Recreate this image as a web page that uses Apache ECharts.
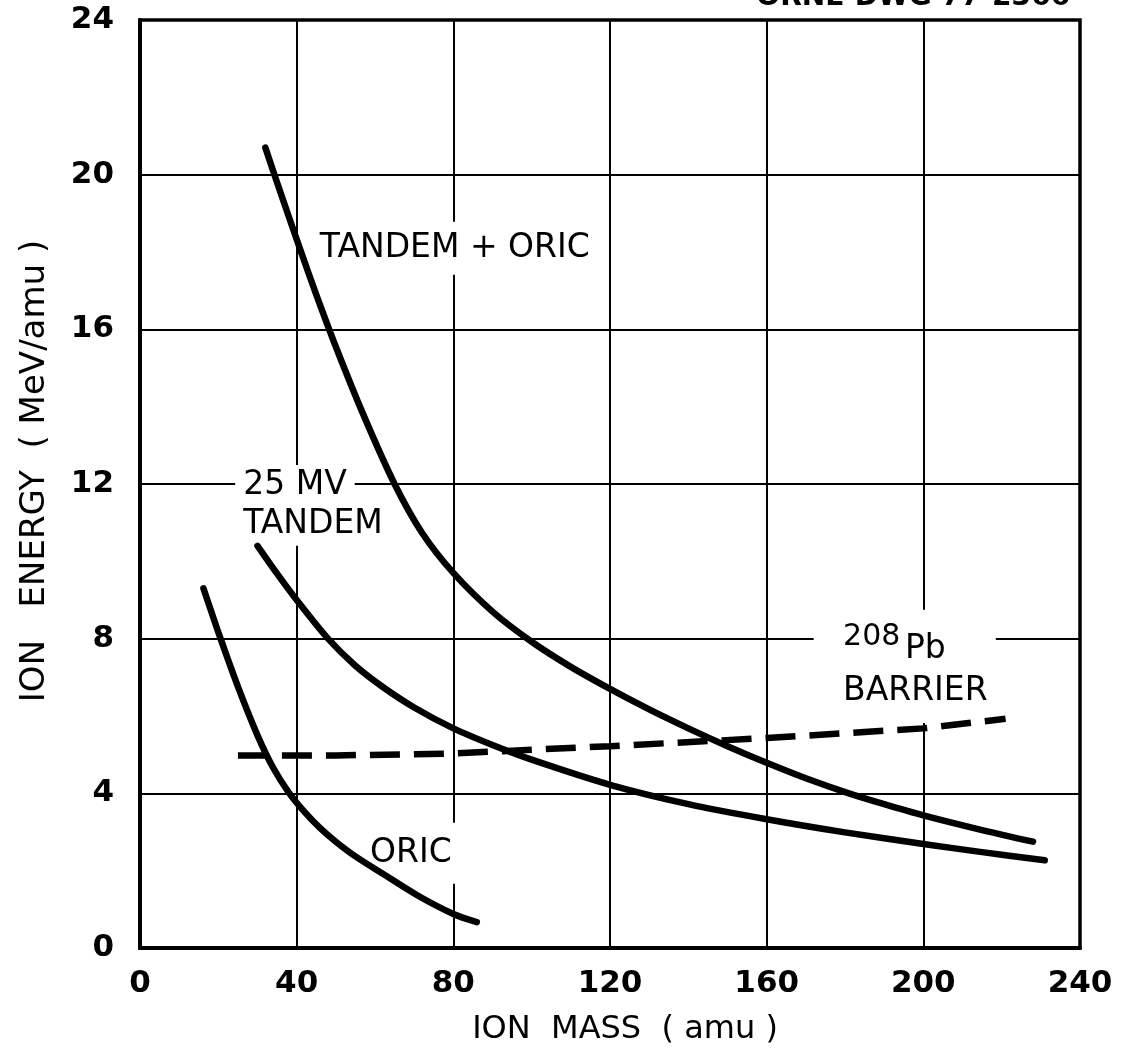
<!DOCTYPE html>
<html><head><meta charset="utf-8">
<script src="https://cdn.jsdelivr.net/npm/echarts@6/dist/echarts.min.js"></script>
<style>html,body{margin:0;padding:0;background:#fff}#c{width:1122px;height:1058px}</style>
</head><body><div id="c"></div>
<script>
// ---- data ----
const xTickValues = [0, 40, 80, 120, 160, 200, 240];
const yTickValues = [0, 4, 8, 12, 16, 20, 24];

const tandemOricMass   = [32, 36, 41.3, 45, 50, 57, 65, 72, 80, 90, 100, 110, 120, 130, 140, 150, 160, 170, 181, 190, 200, 215, 228];
const tandemOricEnergy = [20.7, 19.5, 17.95, 16.9, 15.55, 13.8, 12.0, 10.74, 9.7, 8.7, 7.92, 7.27, 6.7, 6.17, 5.68, 5.22, 4.79, 4.39, 4.0, 3.72, 3.43, 3.05, 2.75];

const tandemMass   = [30, 35, 40, 48, 55, 62, 70, 80, 90, 100, 120, 140, 160, 180, 200, 215, 231];
const tandemEnergy = [10.4, 9.68, 9.0, 8.0, 7.3, 6.75, 6.22, 5.68, 5.25, 4.87, 4.22, 3.72, 3.33, 2.99, 2.69, 2.48, 2.27];

const oricMass   = [16.2, 18, 20.5, 25, 30, 34, 38, 42, 46, 50, 55, 62, 71, 80, 86];
const oricEnergy = [9.3, 8.76, 8.02, 6.76, 5.5, 4.66, 4.02, 3.52, 3.1, 2.75, 2.37, 1.92, 1.35, 0.88, 0.67];

const barrierMass   = [25, 50, 80, 90, 120, 160, 200, 221];
const barrierEnergy = [4.98, 4.98, 5.03, 5.08, 5.22, 5.43, 5.68, 5.93];

const zip = (xs, ys) => xs.map((x, i) => [x, ys[i]]);

// ---- chart ----
const FF = "'DejaVu Sans', sans-serif";
const chart = echarts.init(document.getElementById('c'), null, {renderer: 'canvas'});

const solid = (name, xs, ys) => ({
  name, type: 'line', data: zip(xs, ys), showSymbol: false, symbol: 'none',
  smooth: 0.3, z: 5,
  lineStyle: {color: '#000', width: 6.5, cap: 'round', join: 'round'}
});

chart.setOption({
  animation: false,
  backgroundColor: '#fff',
  grid: {left: 140, right: 42, top: 20, bottom: 110, show: true, borderColor: '#000', borderWidth: 3.5, backgroundColor: 'transparent'},
  xAxis: {
    type: 'value', min: 0, max: 240, interval: 40,
    name: 'ION  MASS  ( amu )', nameLocation: 'middle', nameGap: 66,
    nameTextStyle: {fontFamily: FF, fontSize: 32, color: '#000', padding: [0, 0, 0, 30]},
    axisLine: {lineStyle: {color: '#000', width: 4}},
    axisTick: {show: false},
    axisLabel: {margin: 20, fontFamily: FF, fontSize: 31, fontWeight: 'bold', color: '#000',
      formatter: v => xTickValues.includes(v) ? String(v) : ''},
    splitLine: {show: true, lineStyle: {color: '#000', width: 2}}
  },
  yAxis: {
    type: 'value', min: 0, max: 24, interval: 4,
    name: 'ION   ENERGY  ( MeV/amu )', nameLocation: 'middle', nameGap: 88, nameRotate: 90,
    nameTextStyle: {fontFamily: FF, fontSize: 34, color: '#000', padding: [0, 0, 0, 26]},
    axisLine: {lineStyle: {color: '#000', width: 4}},
    axisTick: {show: false},
    axisLabel: {margin: 26, fontFamily: FF, fontSize: 31, fontWeight: 'bold', color: '#000',
      formatter: v => yTickValues.includes(v) ? String(v) : ''},
    splitLine: {show: true, lineStyle: {color: '#000', width: 2}}
  },
  series: [
    solid('TANDEM + ORIC', tandemOricMass, tandemOricEnergy),
    solid('25 MV TANDEM', tandemMass, tandemEnergy),
    solid('ORIC', oricMass, oricEnergy),
    {
      name: '208Pb BARRIER', type: 'line', data: zip(barrierMass, barrierEnergy),
      showSymbol: false, symbol: 'none', smooth: false, z: 5,
      lineStyle: {color: '#000', width: 6.5, type: [30, 14], cap: 'butt'}
    }
  ]
});

// ---- annotations (placed in data coordinates) ----
const P = (x, y) => chart.convertToPixel({gridIndex: 0}, [x, y]);
const label = (text, x, y, pad, size) => {
  const p = P(x, y);
  return {type: 'text', x: p[0], y: p[1], z: 3,
    style: {text, fontFamily: FF, fontSize: size || 33, fill: '#000',
      align: 'left', verticalAlign: 'middle', backgroundColor: '#fff', padding: pad}};
};
const r0 = P(172, 8.75), r1 = P(218.5, 5.82);

chart.setOption({
  graphic: [
    {type: 'text', x: 1070, y: 12, z: 3,
      style: {text: 'ORNL-DWG 77-2366', fontFamily: FF, fontSize: 28, fontWeight: 'bold', fill: '#000', align: 'right', verticalAlign: 'bottom'}},
    label('TANDEM + ORIC', 44.9, 18.1, [10, 6, 10, 4]),
    label('25 MV', 24.3, 11.96, [6, 8, 2, 8]),
    label('TANDEM', 24.3, 10.96, [2, 8, 8, 8]),
    label('ORIC', 57.2, 2.45, [14, 6, 14, 6]),
    {type: 'rect', z: 2, shape: {x: r0[0], y: r0[1], width: r1[0] - r0[0], height: r1[1] - r0[1]}, style: {fill: '#fff'}},
    label('208', 179.5, 8.04, 0, 30),
    label('Pb', 195.3, 7.72, 0, 33),
    label('BARRIER', 179.5, 6.64, 0, 33)
  ]
});
</script>
</body></html>
